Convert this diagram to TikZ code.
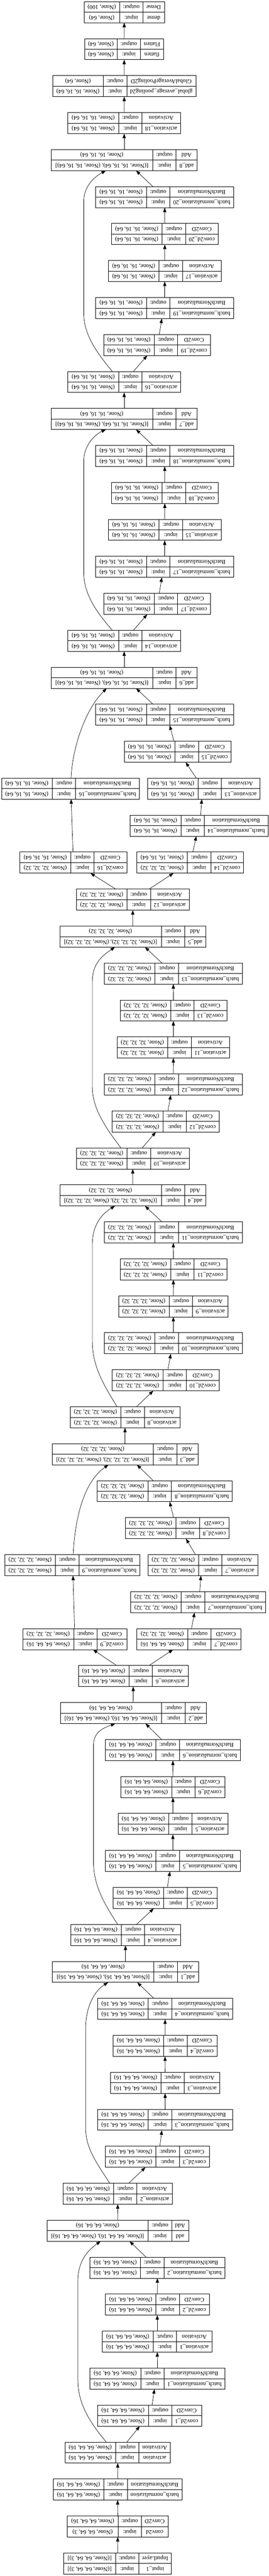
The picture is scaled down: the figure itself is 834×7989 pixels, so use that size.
\documentclass[tikz,border=0pt]{standalone}
\usepackage{fontspec}
\setmainfont{Liberation Serif}
\usetikzlibrary{arrows.meta}
\newcommand{\shA}{(None, 64, 64, 16)}
\newcommand{\shB}{(None, 32, 32, 32)}
\newcommand{\shC}{(None, 16, 16, 64)}
\newcommand{\shI}{(None, 64, 64, 3)}
\tikzset{
  box/.style={draw, line width=1.2pt, rectangle, inner sep=0pt, outer sep=0pt, minimum height=65.3pt},
  cellln/.style={line width=0.9pt},
  txt/.style={rotate=180, inner sep=0pt, font=\fontsize{18.2}{21}\selectfont, text height=12.6pt, text depth=3.8pt},
  arr/.style={line width=1.1pt, -{Triangle[length=14pt,width=10pt]}}
}
\newcommand{\lay}[9]{%
  \pgfmathsetmacro{\lyW}{#4+72.6+#5}%
  \pgfmathsetmacro{\lyY}{7950-114.67*#3}%
  \pgfmathsetmacro{\lyL}{#2-\lyW/2}%
  \pgfmathsetmacro{\lyA}{\lyL+#5}%
  \pgfmathsetmacro{\lyB}{\lyA+72.6}%
  \pgfmathsetmacro{\lyS}{\lyL+#5/2}%
  \pgfmathsetmacro{\lyI}{\lyA+36.3}%
  \pgfmathsetmacro{\lyN}{\lyB+#4/2}%
  \pgfmathsetmacro{\lyT}{\lyY-32.65}%
  \pgfmathsetmacro{\lyD}{\lyY+32.65}%
  \pgfmathsetmacro{\lyU}{\lyY-16.3}%
  \pgfmathsetmacro{\lyV}{\lyY+16.3}%
  \node[box, minimum width=\lyW pt] (#1) at (#2,\lyY) {};
  \draw[cellln] (#1.west) -- (#1.east) (\lyA,\lyT) -- (\lyA,\lyD) (\lyB,\lyT) -- (\lyB,\lyD);
  \node[txt] (#1-c) at (\lyN,\lyU) {#7};
  \node[txt] (#1-o) at (\lyI,\lyU) {output:};
  \node[txt] (#1-so) at (\lyS,\lyU) {#9};
  \node[txt] (#1-n) at (\lyN,\lyV) {#6};
  \node[txt] (#1-i) at (\lyI,\lyV) {input:};
  \node[txt] (#1-si) at (\lyS,\lyV) {#8};
}
\newcommand{\ed}[4]{\draw[arr] ([xshift=#2pt]#1.north) -- ([xshift=#4pt]#3.south);}
\begin{document}
\begin{tikzpicture}[x=1pt,y=-1pt]
\fill[white] (0,0) rectangle (834,7989);
\path[use as bounding box] (0,0) rectangle (834,7989);
% stack 0
\lay{in1}{364.7}{0}{101.4}{160.2}{input\_1}{InputLayer}{[\shI]}{[\shI]}
\lay{c0}{365}{1}{82.8}{157}{conv2d}{Conv2D}{\shI}{\shA}
\lay{b0}{364.7}{2}{170.3}{157}{batch\_normalization}{BatchNormalization}{\shA}{\shA}
\lay{a0}{365}{3}{97.7}{157}{activation}{Activation}{\shA}{\shA}
\lay{c1}{464}{4}{92.6}{157}{conv2d\_1}{Conv2D}{\shA}{\shA}
\lay{b1}{488.2}{5}{189}{157}{batch\_normalization\_1}{BatchNormalization}{\shA}{\shA}
\lay{a1}{487.7}{6}{110.5}{157}{activation\_1}{Activation}{\shA}{\shA}
\lay{c2}{487.7}{7}{92.6}{157}{conv2d\_2}{Conv2D}{\shA}{\shA}
\lay{b2}{488}{8}{189}{157}{batch\_normalization\_2}{BatchNormalization}{\shA}{\shA}
\lay{d0}{364.9}{9}{52.3}{314.5}{add}{Add}{[\shA, \shA]}{\shA}
\lay{a2}{365}{10}{110.5}{157}{activation\_2}{Activation}{\shA}{\shA}
\lay{c3}{487.7}{11}{92.6}{157}{conv2d\_3}{Conv2D}{\shA}{\shA}
\lay{b3}{512}{12}{189}{157}{batch\_normalization\_3}{BatchNormalization}{\shA}{\shA}
\lay{a3}{512}{13}{110.5}{157}{activation\_3}{Activation}{\shA}{\shA}
\lay{c4}{511.7}{14}{92.6}{157}{conv2d\_4}{Conv2D}{\shA}{\shA}
\lay{b4}{512}{15}{189}{157}{batch\_normalization\_4}{BatchNormalization}{\shA}{\shA}
\lay{d1}{389}{16}{65.7}{314.5}{add\_1}{Add}{[\shA, \shA]}{\shA}
\lay{a4}{389}{17}{110.5}{157}{activation\_4}{Activation}{\shA}{\shA}
\lay{c5}{511.7}{18}{92.6}{157}{conv2d\_5}{Conv2D}{\shA}{\shA}
\lay{b5}{536}{19}{189}{157}{batch\_normalization\_5}{BatchNormalization}{\shA}{\shA}
\lay{a5}{536}{20}{110.5}{157}{activation\_5}{Activation}{\shA}{\shA}
\lay{c6}{536.3}{21}{92.6}{157}{conv2d\_6}{Conv2D}{\shA}{\shA}
\lay{b6}{536}{22}{189}{157}{batch\_normalization\_6}{BatchNormalization}{\shA}{\shA}
\lay{d2}{413.2}{23}{65.7}{314.5}{add\_2}{Add}{[\shA, \shA]}{\shA}
\lay{a6}{413}{24}{110.5}{157}{activation\_6}{Activation}{\shA}{\shA}
% stack 1
\lay{c7}{585.7}{25}{92.6}{157}{conv2d\_7}{Conv2D}{\shA}{\shB}
\lay{c9}{232.3}{25}{92.6}{157}{conv2d\_9}{Conv2D}{\shA}{\shB}
\lay{b7}{614.3}{26}{189}{157}{batch\_normalization\_7}{BatchNormalization}{\shB}{\shB}
\lay{a7}{628.7}{27}{110.5}{157}{activation\_7}{Activation}{\shB}{\shB}
\lay{b9}{224}{27}{189}{157}{batch\_normalization\_9}{BatchNormalization}{\shB}{\shB}
\lay{c8}{549.6}{28}{92.6}{157}{conv2d\_8}{Conv2D}{\shB}{\shB}
\lay{b8}{511}{29}{189}{157}{batch\_normalization\_8}{BatchNormalization}{\shB}{\shB}
\lay{d3}{387.6}{30}{65.7}{314.5}{add\_3}{Add}{[\shB, \shB]}{\shB}
\lay{a8}{387.6}{31}{110.5}{157}{activation\_8}{Activation}{\shB}{\shB}
\lay{c10}{513.6}{32}{101.4}{157}{conv2d\_10}{Conv2D}{\shB}{\shB}
\lay{b10}{537.4}{33}{198.1}{157}{batch\_normalization\_10}{BatchNormalization}{\shB}{\shB}
\lay{a9}{537.4}{34}{110.5}{157}{activation\_9}{Activation}{\shB}{\shB}
\lay{c11}{537.6}{35}{101.4}{157}{conv2d\_11}{Conv2D}{\shB}{\shB}
\lay{b11}{537.4}{36}{198.1}{157}{batch\_normalization\_11}{BatchNormalization}{\shB}{\shB}
\lay{d4}{411.7}{37}{65.7}{314.5}{add\_4}{Add}{[\shB, \shB]}{\shB}
\lay{a10}{411.6}{38}{119.6}{157}{activation\_10}{Activation}{\shB}{\shB}
\lay{c12}{513.6}{39}{101.4}{157}{conv2d\_12}{Conv2D}{\shB}{\shB}
\lay{b12}{537.4}{40}{198.1}{157}{batch\_normalization\_12}{BatchNormalization}{\shB}{\shB}
\lay{a11}{537.6}{41}{119.6}{157}{activation\_11}{Activation}{\shB}{\shB}
\lay{c13}{537.6}{42}{101.4}{157}{conv2d\_13}{Conv2D}{\shB}{\shB}
\lay{b13}{537.4}{43}{198.1}{157}{batch\_normalization\_13}{BatchNormalization}{\shB}{\shB}
\lay{d5}{411.7}{44}{65.7}{314.5}{add\_5}{Add}{[\shB, \shB]}{\shB}
\lay{a12}{411.6}{45}{119.6}{157}{activation\_12}{Activation}{\shB}{\shB}
% stack 2
\lay{c14}{589.7}{46}{101.4}{157}{conv2d\_14}{Conv2D}{\shB}{\shC}
\lay{c16}{227.5}{46}{101.4}{157}{conv2d\_16}{Conv2D}{\shB}{\shC}
\lay{b14}{617.7}{47}{198.1}{157}{batch\_normalization\_14}{BatchNormalization}{\shC}{\shC}
\lay{a13}{631.6}{48}{119.6}{157}{activation\_13}{Activation}{\shC}{\shC}
\lay{b16}{218.6}{48}{198.1}{157}{batch\_normalization\_16}{BatchNormalization}{\shC}{\shC}
\lay{c15}{551}{49}{101.4}{157}{conv2d\_15}{Conv2D}{\shC}{\shC}
\lay{b15}{510.7}{50}{198.1}{157}{batch\_normalization\_15}{BatchNormalization}{\shC}{\shC}
\lay{d6}{385}{51}{65.7}{314.5}{add\_6}{Add}{[\shC, \shC]}{\shC}
\lay{a14}{385}{52}{119.6}{157}{activation\_14}{Activation}{\shC}{\shC}
\lay{c17}{486.7}{53}{101.4}{157}{conv2d\_17}{Conv2D}{\shC}{\shC}
\lay{b17}{510.7}{54}{198.1}{157}{batch\_normalization\_17}{BatchNormalization}{\shC}{\shC}
\lay{a15}{510.7}{55}{119.6}{157}{activation\_15}{Activation}{\shC}{\shC}
\lay{c18}{511}{56}{101.4}{157}{conv2d\_18}{Conv2D}{\shC}{\shC}
\lay{b18}{510.7}{57}{198.1}{157}{batch\_normalization\_18}{BatchNormalization}{\shC}{\shC}
\lay{d7}{385}{58}{65.7}{314.5}{add\_7}{Add}{[\shC, \shC]}{\shC}
\lay{a16}{385}{59}{119.6}{157}{activation\_16}{Activation}{\shC}{\shC}
\lay{c19}{486.7}{60}{101.4}{157}{conv2d\_19}{Conv2D}{\shC}{\shC}
\lay{b19}{510.7}{61}{198.1}{157}{batch\_normalization\_19}{BatchNormalization}{\shC}{\shC}
\lay{a17}{510.7}{62}{119.6}{157}{activation\_17}{Activation}{\shC}{\shC}
\lay{c20}{511}{63}{101.4}{157}{conv2d\_20}{Conv2D}{\shC}{\shC}
\lay{b20}{510.7}{64}{198.1}{157}{batch\_normalization\_20}{BatchNormalization}{\shC}{\shC}
\lay{d8}{385}{65}{65.7}{314.5}{add\_8}{Add}{[\shC, \shC]}{\shC}
\lay{a18}{385}{66}{119.6}{157}{activation\_18}{Activation}{\shC}{\shC}
\lay{gap}{385.2}{67}{214.1}{157}{global\_average\_pooling2d}{GlobalAveragePooling2D}{\shC}{(None, 64)}
\lay{fl}{385}{68}{71.5}{100.4}{flatten}{Flatten}{(None, 64)}{(None, 64)}
\lay{de}{385.2}{69}{66.7}{110}{dense}{Dense}{(None, 64)}{(None, 100)}
% straight edges
\ed{in1}{0}{c0}{0}
\ed{c0}{0}{b0}{0}
\ed{b0}{0}{a0}{0}
\ed{a0}{28.5}{c1}{-30.5}
\ed{c1}{7.4}{b1}{-9.2}
\ed{b1}{0}{a1}{0}
\ed{a1}{0}{c2}{0}
\ed{c2}{0}{b2}{0}
\ed{b2}{-35.2}{d0}{36.6}
\ed{d0}{0}{a2}{0}
\ed{a2}{34.4}{c3}{-36.6}
\ed{c3}{7.8}{b3}{-10.1}
\ed{b3}{0}{a3}{0}
\ed{a3}{0}{c4}{0}
\ed{c4}{0}{b4}{0}
\ed{b4}{-35.2}{d1}{36.5}
\ed{d1}{0}{a4}{0}
\ed{a4}{34.4}{c5}{-34.9}
\ed{c5}{7.3}{b5}{-9}
\ed{b5}{0}{a5}{0}
\ed{a5}{0}{c6}{0}
\ed{c6}{0}{b6}{0}
\ed{b6}{-35.2}{d2}{37.9}
\ed{d2}{0}{a6}{0}
\ed{a6}{49.4}{c7}{-49.1}
\ed{a6}{-51.5}{c9}{56}
\ed{c7}{8}{b7}{-11}
\ed{b7}{5}{a7}{-5.7}
\ed{a7}{-22.7}{c8}{27}
\ed{c8}{-11.4}{b8}{14.9}
\ed{b8}{-35.8}{d3}{36.9}
\ed{c9}{-1.1}{b9}{2.4}
\ed{d3}{0}{a8}{0}
\ed{a8}{35.8}{c10}{-38.4}
\ed{c10}{7}{b10}{-7.8}
\ed{b10}{0}{a9}{0}
\ed{a9}{0}{c11}{0}
\ed{c11}{0}{b11}{0}
\ed{b11}{-35.5}{d4}{37.8}
\ed{d4}{0}{a10}{0}
\ed{a10}{29.4}{c12}{-30.4}
\ed{c12}{7}{b12}{-7.8}
\ed{b12}{0}{a11}{0}
\ed{a11}{0}{c13}{0}
\ed{c13}{0}{b13}{0}
\ed{b13}{-35.5}{d5}{37.8}
\ed{d5}{0}{a12}{0}
\ed{a12}{50.8}{c14}{-51.5}
\ed{a12}{-52.8}{c16}{52.8}
\ed{c14}{8.3}{b14}{-9}
\ed{b14}{4.3}{a13}{-5.9}
\ed{a13}{-22.9}{c15}{24.5}
\ed{c15}{-11.8}{b15}{15.2}
\ed{b15}{-36.7}{d6}{36.8}
\ed{c16}{-1.1}{b16}{1.9}
\ed{d6}{0}{a14}{0}
\ed{a14}{28.8}{c17}{-30.2}
\ed{c17}{7.2}{b17}{-8.8}
\ed{b17}{0}{a15}{0}
\ed{a15}{0}{c18}{0}
\ed{c18}{0}{b18}{0}
\ed{b18}{-36.7}{d7}{36.8}
\ed{d7}{0}{a16}{0}
\ed{a16}{28.8}{c19}{-30.2}
\ed{c19}{7.2}{b19}{-8.8}
\ed{b19}{0}{a17}{0}
\ed{a17}{0}{c20}{0}
\ed{c20}{0}{b20}{0}
\ed{b20}{-36.7}{d8}{36.8}
\ed{d8}{0}{a18}{0}
\ed{a18}{0}{gap}{0}
\ed{gap}{0}{fl}{0}
\ed{fl}{0}{de}{0}
% skip connections
\draw[arr] ([xshift=-35.6pt]a0.north) .. controls (285,7520) and (241.3,7460) .. (241.3,7380) -- (241.3,7075) .. controls (241.3,7015) and (270,6980) .. ([xshift=-52.6pt]d0.south);
\draw[arr] ([xshift=-24.9pt]a2.north) .. controls (303,6712) and (265.6,6665) .. (265.6,6600) -- (265.6,6290) .. controls (265.6,6225) and (292,6175) .. ([xshift=-53.7pt]d1.south);
\draw[arr] ([xshift=-24.3pt]a4.north) .. controls (327,5910) and (289.9,5850) .. (289.9,5775) -- (289.9,5415) .. controls (289.9,5375) and (312,5362) .. ([xshift=-55.5pt]d2.south);
\draw[arr] ([xshift=2.9pt]b9.north) .. controls (232,4720) and (255,4600) .. ([xshift=-51.2pt]d3.south);
\draw[arr] ([xshift=-24.6pt]a8.north) .. controls (325,4300) and (286.2,4240) .. (286.2,4160) -- (286.2,3860) .. controls (286.2,3800) and (315,3765) .. ([xshift=-55.1pt]d4.south);
\draw[arr] ([xshift=-36.8pt]a10.north) .. controls (330,3500) and (286.2,3440) .. (286.2,3370) -- (286.2,3045) .. controls (286.2,2990) and (315,2965) .. ([xshift=-55.1pt]d5.south);
\draw[arr] ([xshift=1.9pt]b16.north) .. controls (223,2330) and (260,2205) .. ([xshift=-54pt]d6.south);
\draw[arr] ([xshift=-36.9pt]a14.north) .. controls (310,1910) and (259.5,1850) .. (259.5,1775) -- (259.5,1430) .. controls (259.5,1385) and (290,1350) .. ([xshift=-56.7pt]d7.south);
\draw[arr] ([xshift=-36.9pt]a16.north) .. controls (310,1105) and (259.5,1045) .. (259.5,970) -- (259.5,625) .. controls (259.5,580) and (290,550) .. ([xshift=-56.7pt]d8.south);
\end{tikzpicture}
\end{document}
